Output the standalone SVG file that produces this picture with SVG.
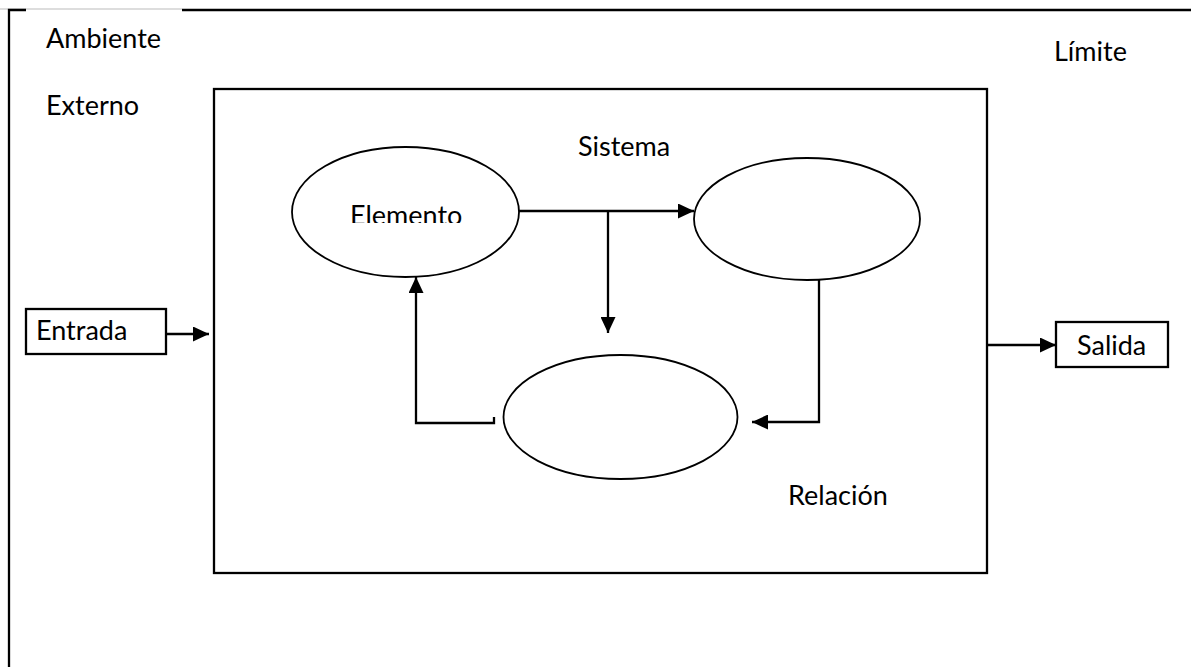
<svg xmlns="http://www.w3.org/2000/svg" width="1191" height="667" viewBox="0 0 1191 667">
<style>
text{font-family:Lato,"Liberation Sans",sans-serif;font-size:27px;fill:#000}
.ln{fill:none;stroke:#000;stroke-width:2.3}
.el{fill:#fff;stroke:#000;stroke-width:1.8}
.bx{fill:#fff;stroke:#000;stroke-width:2.3}
</style>
<defs>
<marker id="ah" markerUnits="userSpaceOnUse" markerWidth="17" markerHeight="15" refX="16" refY="7.5" orient="auto"><path d="M0,0 L16,7.5 L0,15 Z" fill="#000"/></marker>
<clipPath id="clipEl"><rect x="300" y="190" width="200" height="33"/></clipPath>
</defs>
<rect width="1191" height="667" fill="#fff"/>
<g id="frame">
<line x1="0" y1="9" x2="182" y2="9" stroke="#bbb" stroke-width="1"/>
<path class="ln" d="M26,10 H9 V667"/>
<line class="ln" x1="182" y1="10" x2="1191" y2="10"/>
</g>
<g id="sistema">
<rect class="ln" x="214" y="89" width="773" height="484"/>
<text x="578" y="156">Sistema</text>
</g>
<g id="labels">
<text x="46" y="48">Ambiente</text>
<text x="46" y="115">Externo</text>
<text x="1054" y="61">Límite</text>
<text x="788" y="505">Relación</text>
</g>
<g id="connectors">
<line class="ln" x1="519" y1="211" x2="694" y2="211" marker-end="url(#ah)"/>
<line class="ln" x1="608" y1="211" x2="608" y2="333" marker-end="url(#ah)"/>
<path class="ln" d="M819,263 V422 H752" marker-end="url(#ah)"/>
<path class="ln" d="M494,417 V423 H416 V277" marker-end="url(#ah)"/>
<line class="ln" x1="166" y1="334" x2="209" y2="334" marker-end="url(#ah)"/>
<line class="ln" x1="987" y1="345" x2="1056" y2="345" marker-end="url(#ah)"/>
</g>
<g id="elemento">
<ellipse class="el" cx="405.5" cy="212" rx="113.5" ry="65"/>
<text x="350" y="225" clip-path="url(#clipEl)">Elemento</text>
</g>
<g id="elipse2">
<ellipse class="el" cx="807" cy="219" rx="113" ry="61"/>
</g>
<g id="elipse3">
<ellipse class="el" cx="620.5" cy="417" rx="117" ry="62"/>
</g>
<g id="entrada">
<rect class="bx" x="26" y="309" width="140" height="45"/>
<text x="36" y="340">Entrada</text>
</g>
<g id="salida">
<rect class="bx" x="1056" y="322" width="112" height="45"/>
<text x="1077" y="355">Salida</text>
</g>
</svg>
